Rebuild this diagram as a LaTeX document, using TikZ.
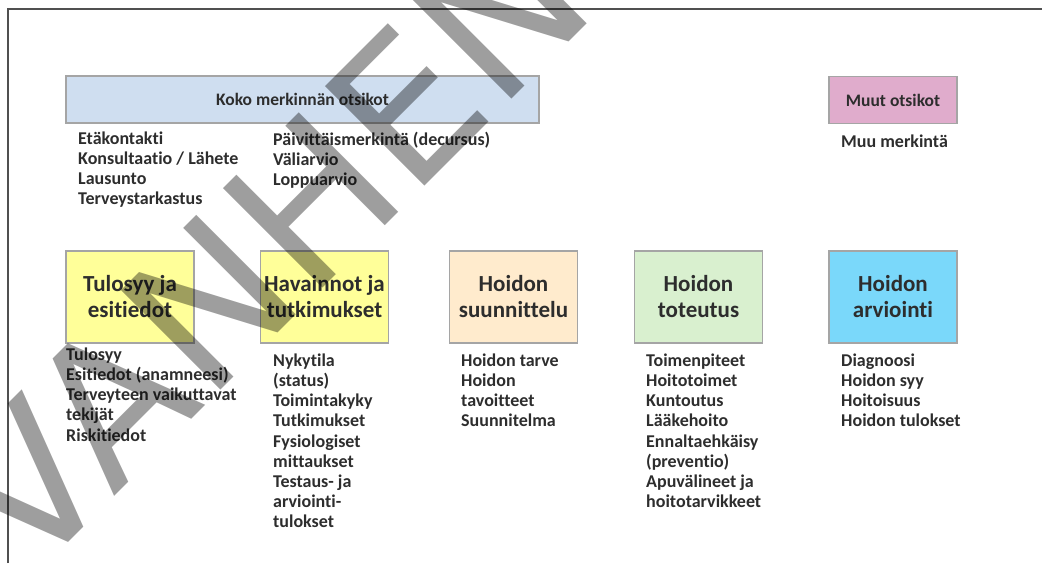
\documentclass[tikz,border=0pt]{standalone}
\usepackage{fontspec}
\setmainfont{Carlito}[Ligatures={NoCommon}]
\newfontfamily\leimafont{DejaVu Sans}

\definecolor{koko}{RGB}{207,222,240}
\definecolor{muut}{RGB}{224,172,204}
\definecolor{keltainen}{RGB}{255,255,153}
\definecolor{persikka}{RGB}{255,235,205}
\definecolor{vihrea}{RGB}{217,240,207}
\definecolor{syaani}{RGB}{122,216,250}
\definecolor{reuna}{RGB}{165,165,165}
\definecolor{kehys}{RGB}{80,80,80}
\definecolor{teksti}{RGB}{45,45,45}

\tikzset{
  otsikko/.style={draw=reuna, line width=1.3pt, minimum height=47pt, text=teksti,
    font=\fontsize{17.5}{20}\selectfont\bfseries},
  vaihe/.style={draw=reuna, line width=1.3pt, minimum width=128pt, minimum height=92pt,
    align=center, text=teksti, font=\fontsize{23}{26}\selectfont\bfseries},
  lista/.style={anchor=north west, align=left, inner sep=0pt, text=teksti,
    font=\fontsize{18}{20.2}\selectfont\bfseries},
}

\begin{document}
\begin{tikzpicture}[x=1pt,y=-1pt]
  \useasboundingbox (0,0) rectangle (1042,563);
  % kehys
  \draw[kehys,line width=1.3pt] (8,563) |- (1042,9);

  % ylarivi
  \node[otsikko, fill=koko, minimum width=473pt] (koko) at (302.5,99.5) {Koko merkinnän otsikot};
  \node[otsikko, fill=muut, minimum width=128pt] (muut) at (893,100) {Muut otsikot};
  \node[lista] (kokoA) at (78,131.5) {Etäkontakti\\Konsultaatio / Lähete\\Lausunto\\Terveystarkastus};
  \node[lista] (kokoB) at (273,131.5) {Päivittäismerkintä (decursus)\\Väliarvio\\Loppuarvio};
  \node[lista] (muutA) at (841,134.5) {Muu merkintä};

  % vaiheet
  \node[vaihe, fill=keltainen] (tulo) at (130,297) {Tulosyy ja\\esitiedot};
  \node[vaihe, fill=keltainen] (havainnot) at (324.5,297) {Havainnot ja\\tutkimukset};
  \node[vaihe, fill=persikka] (suunnittelu) at (513.5,297) {Hoidon\\suunnittelu};
  \node[vaihe, fill=vihrea] (toteutus) at (698.5,297) {Hoidon\\toteutus};
  \node[vaihe, fill=syaani] (arviointi) at (893,297) {Hoidon\\arviointi};

  \node[lista] (tuloL) at (66,347.5) {Tulosyy\\Esitiedot (anamneesi)\\Terveyteen vaikuttavat\\tekijät\\Riskitiedot};
  \node[lista] (havainnotL) at (273,353.5) {Nykytila\\(status)\\Toimintakyky\\Tutkimukset\\Fysiologiset\\mittaukset\\Testaus- ja\\arviointi-\\tulokset};
  \node[lista] (suunnitteluL) at (461,353.5) {Hoidon tarve\\Hoidon\\tavoitteet\\Suunnitelma};
  \node[lista] (toteutusL) at (646,353.5) {Toimenpiteet\\Hoitotoimet\\Kuntoutus\\Lääkehoito\\Ennaltaehkäisy\\(preventio)\\Apuvälineet ja\\hoitotarvikkeet};
  \node[lista] (arviointiL) at (841,353.5) {Diagnoosi\\Hoidon syy\\Hoitoisuus\\Hoidon tulokset};

  % leima
  \begin{scope}
    \clip (0,0) rectangle (1042,563);
    \node[anchor=base west, rotate=45, inner sep=0pt, text=black, text opacity=0.38,
      font=\fontsize{193}{193}\leimafont] (leima) at (29,582) {VANHENTUNUT};
  \end{scope}
\end{tikzpicture}
\end{document}
